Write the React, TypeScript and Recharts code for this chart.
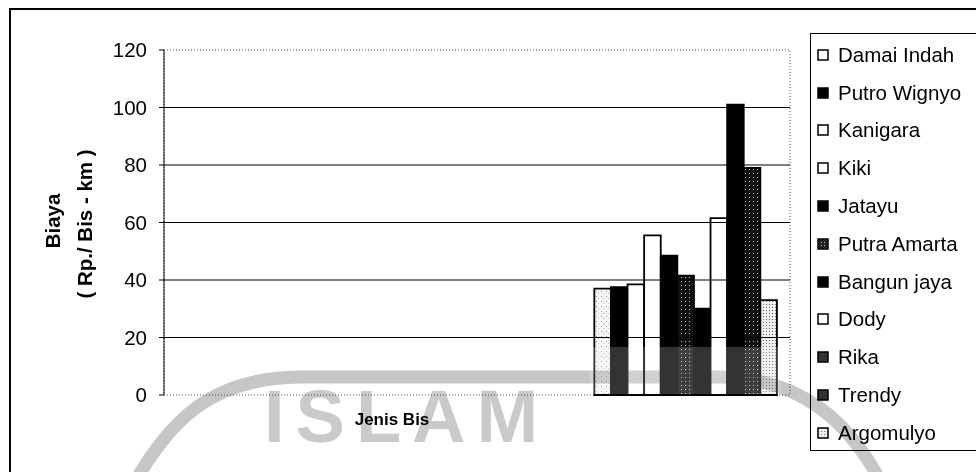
import { BarChart, Bar, XAxis, YAxis, ReferenceLine, ReferenceArea } from "recharts";

const categories = ["k1", "k2", "k3"];
const filledCategory = "k3";
const seriesNames = [
  "Damai Indah",
  "Putro Wignyo",
  "Kanigara",
  "Kiki",
  "Jatayu",
  "Putra Amarta",
  "Bangun jaya",
  "Dody",
  "Rika",
  "Trendy",
  "Argomulyo",
];
const biaya = [37, 37.5, 38.5, 55.5, 48.5, 41.5, 30, 61.5, 101, 79, 33];
const yTicks = [0, 20, 40, 60, 80, 100, 120];

// fill per series, same order as seriesNames
const barFills = [
  "url(#dotsLight)",
  "#000",
  "#fff",
  "#fff",
  "#000",
  "url(#dotsDark)",
  "#000",
  "#fff",
  "#000",
  "url(#dotsDark)",
  "url(#dotsDense)",
];
const legendFills = [
  "#fff",
  "#000",
  "#fff",
  "#fff",
  "#000",
  "url(#dotsDarkL)",
  "#000",
  "#fff",
  "#333",
  "#333",
  "url(#dotsDenseL)",
];

const data = categories.map((c) => {
  const row: Record<string, string | number | null> = { cat: c };
  seriesNames.forEach((n, i) => {
    row["s" + i] = c === filledCategory ? biaya[i] : null;
  });
  return row;
});

const FONT = "Arial, 'Liberation Sans', sans-serif";

// legend kept outside the chart so it doesn't eat plot space
const LegendBox = () => (
  <div
    style={{
      position: "absolute",
      left: 810,
      top: 33,
      border: "1px solid #000",
      width: 175,
      height: 418,
      boxSizing: "border-box",
      fontFamily: FONT,
      fontSize: 20.5,
      color: "#000",
      paddingTop: 2,
    }}
  >
    <svg width={0} height={0} style={{ position: "absolute" }}>
      <defs>
        <pattern id="dotsDarkL" width="3" height="3" patternUnits="userSpaceOnUse">
          <rect width="3" height="3" fill="#222" />
          <rect x="1" y="1" width="1" height="1" fill="#bbb" />
        </pattern>
        <pattern id="dotsDenseL" width="3" height="3" patternUnits="userSpaceOnUse">
          <rect width="3" height="3" fill="#eee" />
          <rect x="1" y="1" width="1" height="1" fill="#777" />
        </pattern>
      </defs>
    </svg>
    {seriesNames.map((n, i) => (
      <div key={n} style={{ display: "flex", alignItems: "center", height: 37.8, paddingLeft: 6, whiteSpace: "nowrap" }}>
        <svg width={12} height={12} style={{ marginRight: 9, flex: "none" }}>
          <rect x={1} y={1} width={10} height={10} fill={legendFills[i]} stroke="#000" strokeWidth={1.5} />
        </svg>
        <span>{n}</span>
      </div>
    ))}
  </div>
);

export default function App() {
  return (
    <div style={{ position: "absolute", left: 0, top: 0, width: 976, height: 472, overflow: "hidden", background: "#fff" }}>
      <div
        style={{
          position: "absolute",
          left: 9,
          top: 8,
          width: 990,
          height: 500,
          borderLeft: "2px solid #000",
          borderTop: "2px solid #000",
        }}
      />
      <div style={{ position: "absolute", left: 0, top: 0 }}>
        <BarChart
          width={976}
          height={472}
          data={data}
          margin={{ top: 50, right: 186, bottom: 77, left: 0 }}
          barSize={16.6}
          barGap={0}
        >
          <defs>
            <pattern id="dotsLight" width="5" height="5" patternUnits="userSpaceOnUse">
              <rect width="5" height="5" fill="#f6f6f6" />
              <rect x="1" y="1" width="1" height="1" fill="#999" />
              <rect x="3" y="3" width="1" height="1" fill="#bbb" />
            </pattern>
            <pattern id="dotsDense" width="3" height="3" patternUnits="userSpaceOnUse">
              <rect width="3" height="3" fill="#eee" />
              <rect x="1" y="1" width="1" height="1" fill="#666" />
            </pattern>
            <pattern id="dotsDark" width="4" height="4" patternUnits="userSpaceOnUse">
              <rect width="4" height="4" fill="#111" />
              <rect x="1" y="1" width="1" height="1" fill="#ccc" />
            </pattern>
          </defs>
          <XAxis dataKey="cat" height={0} tick={false} tickLine={false} axisLine={false} />
          <YAxis
            width={164}
            domain={[0, 120]}
            ticks={yTicks}
            tickSize={5}
            tickMargin={12}
            axisLine={{ stroke: "#000", strokeWidth: 1 }}
            tickLine={{ stroke: "#000" }}
            tick={{ fill: "#000", fontSize: 20.5, fontFamily: FONT }}
          />
          <ReferenceArea y1={0} y2={120} fill="none" stroke="#555" strokeDasharray="1 2" />
          {yTicks
            .filter((t) => t > 0 && t < 120)
            .map((t) => (
              <ReferenceLine key={t} y={t} stroke="#000" strokeWidth={1} />
            ))}
          {seriesNames.map((n, i) => (
            <Bar
              key={n}
              dataKey={"s" + i}
              name={n}
              fill={barFills[i]}
              stroke="#000"
              strokeWidth={1.8}
              isAnimationActive={false}
            />
          ))}
        </BarChart>
      </div>
      <LegendBox />
      <svg
        width={976}
        height={472}
        style={{ position: "absolute", left: 0, top: 0, pointerEvents: "none" }}
      >
        <g fontFamily={FONT} fontWeight="bold" fontSize={20.5} fill="#000">
          <text x={52} y={221} textAnchor="middle" transform="rotate(-90 52 221)" dominantBaseline="central">
            Biaya
          </text>
          <text x={84} y={224} textAnchor="middle" transform="rotate(-90 84 224)" dominantBaseline="central">
            ( Rp./ Bis - km )
          </text>
        </g>
        {/* scanned watermark */}
        <g style={{ mixBlendMode: "multiply" }}>
          <path
            d="M 130 490 C 170 420, 210 378, 300 377 L 720 377 C 800 378, 850 420, 885 490"
            fill="none"
            stroke="#c6c6c6"
            strokeWidth={13}
          />
          <text x={264} y={442} fontFamily={FONT} fontWeight="bold" fontSize={74} fill="#cacaca" letterSpacing={11}>
            ISLAM
          </text>
        </g>
        <rect x={590} y={347} width={190} height={47} fill="#fff" opacity={0.2} />
        <text x={392} y={419} textAnchor="middle" dominantBaseline="central" fontFamily={FONT} fontWeight="bold" fontSize={17} fill="#000">
          Jenis Bis
        </text>
      </svg>
    </div>
  );
}
